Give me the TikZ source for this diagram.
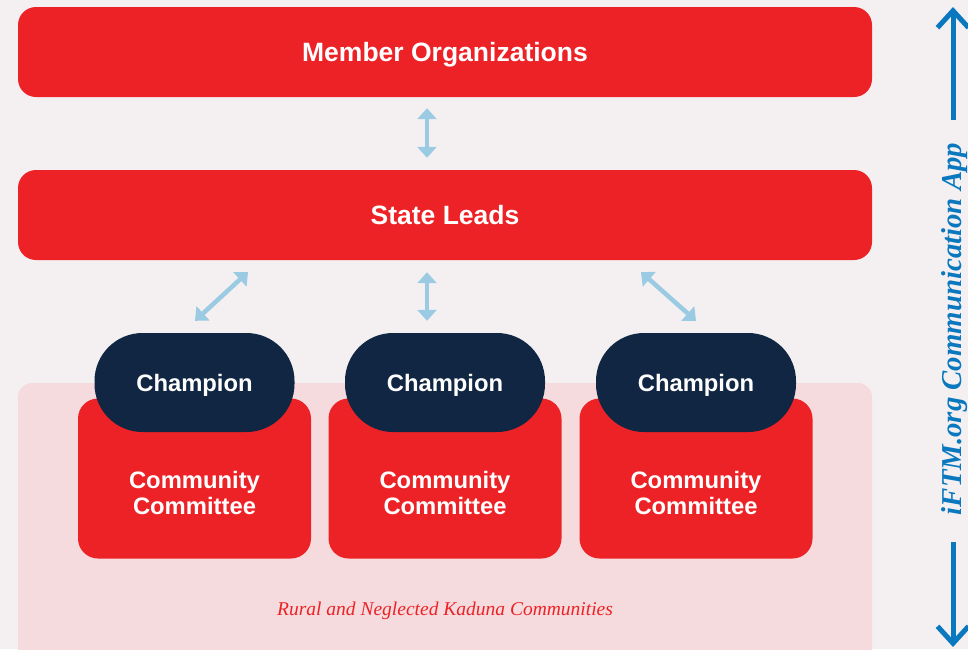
\documentclass[tikz,border=0pt]{standalone}
\usepackage{fontspec}
\setmainfont{Liberation Sans}
\newfontfamily\serifface{Liberation Serif}
\usetikzlibrary{arrows.meta}
\definecolor{bgpaper}{HTML}{F4F0F2}
\definecolor{zonepink}{HTML}{F5DBDD}
\definecolor{boxred}{HTML}{ED2226}
\definecolor{navy}{HTML}{112642}
\definecolor{linkblue}{HTML}{9ACBE3}
\definecolor{appblue}{HTML}{0A78BE}
\tikzset{
  bar/.style={fill=boxred, rounded corners=18pt, minimum width=854pt, minimum height=90pt,
    text=white, font=\bfseries\fontsize{26.5}{30}\selectfont, inner sep=0pt,
    text height=19pt, text depth=0pt},
  committee/.style={fill=boxred, rounded corners=20pt, minimum width=233pt, minimum height=160pt,
    inner sep=0pt, label={[cmtext]center:{Community\\Committee}}},
  cmtext/.style={text=white, font=\bfseries\fontsize{23.8}{26.5}\selectfont, align=center,
    yshift=-14.5pt},
  champ/.style={fill=navy, rounded corners=48pt, minimum width=200pt, minimum height=99pt,
    text=white, font=\bfseries\fontsize{23.8}{27}\selectfont, inner sep=0pt,
    text height=17pt, text depth=0pt},
  link/.style={draw=linkblue, line width=4.5pt,
    {Triangle[width=19pt,length=11pt]}-{Triangle[width=19pt,length=11pt]}},
  applink/.style={draw=appblue, line width=5pt,
    -{Straight Barb[width=31pt,length=17pt,line width=5pt]}},
}
\begin{document}
\begin{tikzpicture}[x=1pt,y=-1pt]
  % canvas
  \fill[bgpaper] (0,0) rectangle (968,649);
  \useasboundingbox (0,0) rectangle (968,649);
  % community zone
  \begin{scope}
    \clip (0,0) rectangle (968,649);
    \fill[zonepink, rounded corners=14pt] (18,383) rectangle (872,680);
  \end{scope}

  % top bars
  \node[bar] (mo) at (445,52) {Member Organizations};
  \node[bar] (sl) at (445,215) {State Leads};

  % committees and their champions
  \node[committee] (c1) at (194.5,478.5) {};
  \node[committee] (c2) at (445,478.5) {};
  \node[committee] (c3) at (696,478.5) {};
  \node[champ] (h1) at (194.5,382.5) {Champion};
  \node[champ] (h2) at (445,382.5) {Champion};
  \node[champ] (h3) at (696,382.5) {Champion};

  % zone caption
  \node[text=boxred, font=\serifface\itshape\fontsize{19.5}{22}\selectfont] (zone) at (445,610.5)
    {Rural and Neglected Kaduna Communities};

  % links between levels
  \draw[link] ([xshift=-18pt,yshift=-11pt]mo.south) -- ([xshift=-18pt,yshift=12pt]sl.north);
  \coordinate (l1) at (248,272);
  \coordinate (r1) at (641,272);
  \draw[link] (l1) -- ([xshift=0.5pt,yshift=12pt]h1.north);
  \draw[link] ([xshift=-18pt,yshift=-12pt]sl.south) -- ([xshift=-18pt,yshift=12pt]h2.north);
  \draw[link] (r1) -- ([yshift=12pt]h3.north);

  % app channel on the right
  \node[rotate=90, text=appblue, font=\serifface\bfseries\itshape\fontsize{28.8}{31}\selectfont]
    (app) at (955,329) {iFTM.org Communication App};
  \coordinate (apptop) at (953,7);
  \coordinate (appbot) at (953,647);
  \draw[applink] (953,120) -- (apptop);
  \draw[applink] (953,542) -- (appbot);
\end{tikzpicture}
\end{document}
